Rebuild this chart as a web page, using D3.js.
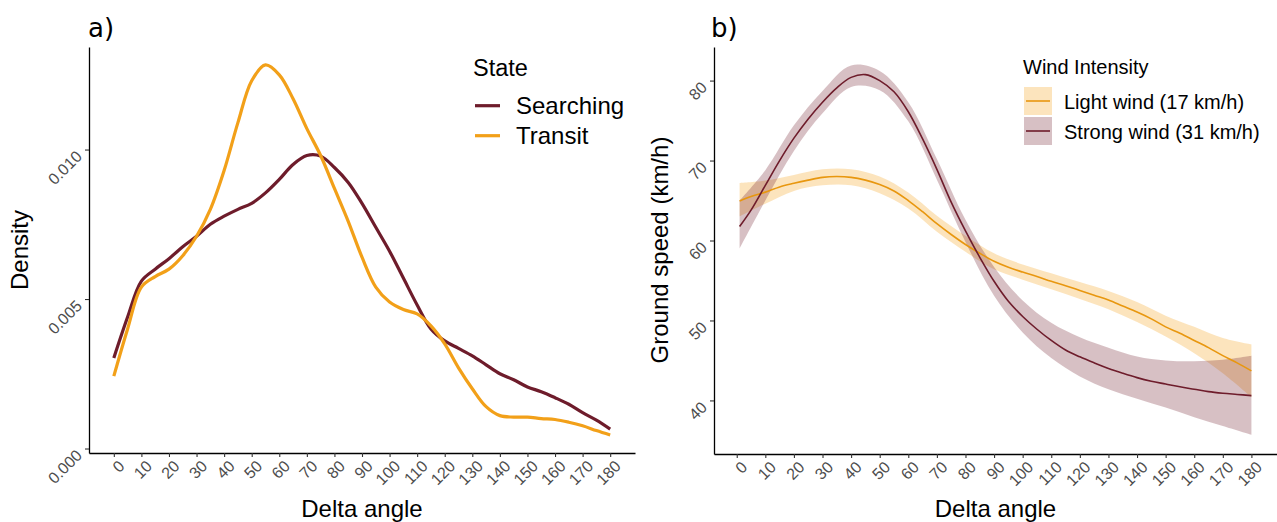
<!DOCTYPE html>
<html>
<head>
<meta charset="utf-8">
<script src="https://cdn.jsdelivr.net/npm/d3@7"></script>
<style>
  html, body { margin: 0; padding: 0; background: #ffffff; }
  svg { display: block; }
  text { font-family: "Liberation Sans", Arial, Helvetica, sans-serif; }
</style>
</head>
<body>
<svg id="fig" width="1277" height="522"></svg>
<script>
// ---------- Panel a: kernel density of turning angle by behavioural state ----------
const angleGrid = d3.range(0, 181, 5);
const searchingDensity = [
  0.00303, 0.0044, 0.0056, 0.0060, 0.00635, 0.00675, 0.0071, 0.0075, 0.00777, 0.0080,
  0.0082, 0.00855, 0.0090, 0.0095, 0.0098, 0.00978, 0.0094, 0.0089, 0.0082, 0.0074,
  0.0066, 0.0057, 0.0048, 0.0040, 0.0036, 0.00335, 0.0031, 0.0028, 0.0025, 0.0023,
  0.00206, 0.0019, 0.0017, 0.00148, 0.0012, 0.00095, 0.00065
];
const transitDensity = [
  0.00242, 0.0040, 0.0054, 0.00575, 0.0060, 0.00645, 0.0071, 0.0080, 0.0093, 0.0109,
  0.0123, 0.01283, 0.0125, 0.0117, 0.0107, 0.0098, 0.0087, 0.0076, 0.0064, 0.0054,
  0.0049, 0.00465, 0.0045, 0.0041, 0.0035, 0.0027, 0.0020, 0.0014, 0.0011, 0.00105,
  0.00105, 0.0010, 0.00097, 0.00088, 0.00076, 0.0006, 0.00045
];
const stateNames = ["Searching", "Transit"];
const densityTicks = [0, 0.005, 0.010];

// ---------- Panel b: fitted ground speed with confidence ribbons ----------
const speedAngles = [1, 5, 10, 15, 20, 25, 30, 35, 40, 45, 50, 55, 60, 65, 70, 75, 80, 85, 90,
  95, 100, 105, 110, 115, 120, 125, 130, 135, 140, 145, 150, 155, 160, 165, 170, 175, 180];
const lightSpeed = [
  64.95, 65.5, 66.05, 66.7, 67.15, 67.55, 67.9, 68.0, 67.9, 67.55, 67.0, 66.2, 65.0,
  63.6, 62.1, 60.75, 59.5, 58.4, 57.4, 56.65, 56.05, 55.5, 54.9, 54.35, 53.75, 53.15,
  52.55, 51.8, 51.05, 50.2, 49.2, 48.4, 47.5, 46.6, 45.6, 44.7, 43.7
];
const strongSpeed = [
  61.75, 63.8, 66.9, 70.0, 72.8, 75.2, 77.3, 79.1, 80.4, 80.75, 80.0, 78.6, 76.1,
  72.7, 68.9, 64.8, 61.2, 57.9, 54.9, 52.4, 50.5, 48.9, 47.5, 46.3, 45.45, 44.7,
  44.0, 43.4, 42.85, 42.4, 42.05, 41.7, 41.4, 41.1, 40.9, 40.75, 40.6
];
const bandAngles = [1, 10, 20, 30, 40, 50, 60, 70, 80, 90, 100, 110, 120, 130, 140, 150, 160, 170, 180];
const lightLower = [63.0, 64.6, 66.2, 66.9, 66.9, 65.9, 64.0, 61.1, 58.6, 56.4, 55.1, 53.9, 52.7, 51.4, 49.8, 48.0, 45.9, 43.4, 40.4];
const lightUpper = [67.2, 67.5, 68.2, 68.9, 68.9, 68.0, 66.0, 63.1, 60.6, 58.4, 57.0, 55.9, 54.8, 53.7, 52.3, 50.6, 49.2, 47.8, 47.0];
const strongLower = [59.0, 65.0, 71.2, 75.9, 79.2, 78.8, 74.9, 67.6, 59.8, 53.1, 48.5, 45.3, 43.0, 41.4, 40.2, 39.1, 37.9, 36.8, 35.7];
const strongUpper = [65.0, 68.8, 74.4, 78.7, 81.9, 81.2, 77.3, 70.2, 62.6, 56.7, 52.5, 49.7, 47.9, 46.6, 45.5, 45.0, 44.9, 45.1, 45.6];
const windNames = ["Light wind (17 km/h)", "Strong wind (31 km/h)"];
const speedTicks = [40, 50, 60, 70, 80];

const angleTicks = d3.range(0, 181, 10);

// ---------- styling ----------
const maroon = "#6E1C2B";
const amber = "#F2A019";
const amberDark = "#E8970F";
const tickColor = "#4D4D4D";
const tickFont = "16px";
const titleFont = "24px";

const svg = d3.select("#fig");
svg.append("rect").attr("width", 1277).attr("height", 522).attr("fill", "#fff");

// scales
const xA = d3.scaleLinear().domain([-9, 189]).range([89, 635]);
const yA = d3.scaleLinear().domain([-0.00015, 0.01343]).range([453, 47]);
const xB = d3.scaleLinear().domain([-7.95, 188.95]).range([714, 1277]);
const yB = d3.scaleLinear().domain([33.3, 84.2]).range([454, 47]);

function bottomAxis(g, scale, y) {
  g.attr("transform", `translate(0,${y})`)
    .call(d3.axisBottom(scale).tickValues(angleTicks).tickSize(4).tickSizeOuter(0).tickFormat(d3.format("d")));
  g.select(".domain").attr("stroke", "#000").attr("stroke-width", 1.3);
  g.selectAll(".tick line").attr("stroke", "#333").attr("stroke-width", 1.1);
  g.selectAll(".tick text")
    .attr("x", 0).attr("y", 0).attr("dy", "0.9em")
    .attr("transform", "translate(1,4) rotate(-45)")
    .attr("text-anchor", "end")
    .attr("fill", tickColor)
    .style("font-size", tickFont)
    .style("font-family", "'Liberation Sans', Arial, sans-serif");
}

function leftAxis(g, scale, x, ticks, fmt) {
  g.attr("transform", `translate(${x},0)`)
    .call(d3.axisLeft(scale).tickValues(ticks).tickSize(4).tickSizeOuter(0).tickFormat(fmt));
  g.select(".domain").attr("stroke", "#000").attr("stroke-width", 1.3);
  g.selectAll(".tick line").attr("stroke", "#333").attr("stroke-width", 1.1);
  g.selectAll(".tick text")
    .attr("x", 0).attr("y", 0).attr("dy", "0.35em")
    .attr("transform", "translate(-10,3.5) rotate(-45)")
    .attr("text-anchor", "end")
    .attr("fill", tickColor)
    .style("font-size", tickFont)
    .style("font-family", "'Liberation Sans', Arial, sans-serif");
}

// ===== Panel a =====
const gA = svg.append("g");
const lineA = d3.line().x((d, i) => xA(angleGrid[i])).y(d => yA(d)).curve(d3.curveCatmullRom.alpha(0.5));
gA.append("path").datum(searchingDensity).attr("d", lineA)
  .attr("fill", "none").attr("stroke", maroon).attr("stroke-width", 3.2).attr("stroke-linecap", "butt");
gA.append("path").datum(transitDensity).attr("d", lineA)
  .attr("fill", "none").attr("stroke", amber).attr("stroke-width", 3.2).attr("stroke-linecap", "butt");

bottomAxis(gA.append("g"), xA, 453);
leftAxis(gA.append("g"), yA, 89, densityTicks, d3.format(".3f"));

gA.append("text").attr("x", 88).attr("y", 37).text("a)")
  .style("font-family", "'DejaVu Sans', sans-serif").style("font-size", "26px").attr("fill", "#000");
gA.append("text").attr("x", 362).attr("y", 517).attr("text-anchor", "middle")
  .style("font-size", titleFont).text("Delta angle");
gA.append("text").attr("transform", "translate(28,250) rotate(-90)").attr("text-anchor", "middle")
  .style("font-size", titleFont).text("Density");

// legend a
const legA = gA.append("g");
legA.append("text").attr("x", 473).attr("y", 76).style("font-size", "23.5px").text("State");
[maroon, amber].forEach((c, i) => {
  const yy = 105.7 + i * 30;
  legA.append("line").attr("x1", 475).attr("x2", 500).attr("y1", yy).attr("y2", yy)
    .attr("stroke", c).attr("stroke-width", 3.2);
  legA.append("text").attr("x", 516).attr("y", yy + 8.3).style("font-size", "24px").text(stateNames[i]);
});

// ===== Panel b =====
const gB = svg.append("g");
const curve = d3.curveCatmullRom.alpha(0.5);
const bandArea = (lo, hi) => d3.area()
  .x((d, i) => xB(bandAngles[i])).y0((d, i) => yB(lo[i])).y1((d, i) => yB(hi[i])).curve(curve);
gB.append("path").datum(lightLower).attr("d", bandArea(lightLower, lightUpper))
  .attr("fill", "#F5A623").attr("fill-opacity", 0.3);
gB.append("path").datum(strongLower).attr("d", bandArea(strongLower, strongUpper))
  .attr("fill", maroon).attr("fill-opacity", 0.28);
const lineB = d3.line().x((d, i) => xB(speedAngles[i])).y(d => yB(d)).curve(curve);
gB.append("path").datum(lightSpeed).attr("d", lineB)
  .attr("fill", "none").attr("stroke", amberDark).attr("stroke-width", 1.6);
gB.append("path").datum(strongSpeed).attr("d", lineB)
  .attr("fill", "none").attr("stroke", maroon).attr("stroke-width", 1.6);

bottomAxis(gB.append("g"), xB, 454);
leftAxis(gB.append("g"), yB, 714, speedTicks, d3.format("d"));

gB.append("text").attr("x", 711).attr("y", 37).text("b)")
  .style("font-family", "'DejaVu Sans', sans-serif").style("font-size", "26px").attr("fill", "#000");
gB.append("text").attr("x", 995.5).attr("y", 517).attr("text-anchor", "middle")
  .style("font-size", titleFont).text("Delta angle");
gB.append("text").attr("transform", "translate(668,250) rotate(-90)").attr("text-anchor", "middle")
  .style("font-size", titleFont).text("Ground speed (km/h)");

// legend b
const legB = gB.append("g");
legB.append("text").attr("x", 1023).attr("y", 74).style("font-size", "20px").text("Wind Intensity");
[["#F5A623", 0.3, amberDark], [maroon, 0.28, maroon]].forEach(([fill, op, stroke], i) => {
  const top = 87 + i * 30;
  legB.append("rect").attr("x", 1024).attr("y", top).attr("width", 28).attr("height", 28)
    .attr("fill", fill).attr("fill-opacity", op);
  legB.append("line").attr("x1", 1026).attr("x2", 1050).attr("y1", top + 14).attr("y2", top + 14)
    .attr("stroke", stroke).attr("stroke-width", 1.6);
  legB.append("text").attr("x", 1064).attr("y", top + 21.5).style("font-size", "20px").text(windNames[i]);
});
</script>
</body>
</html>
